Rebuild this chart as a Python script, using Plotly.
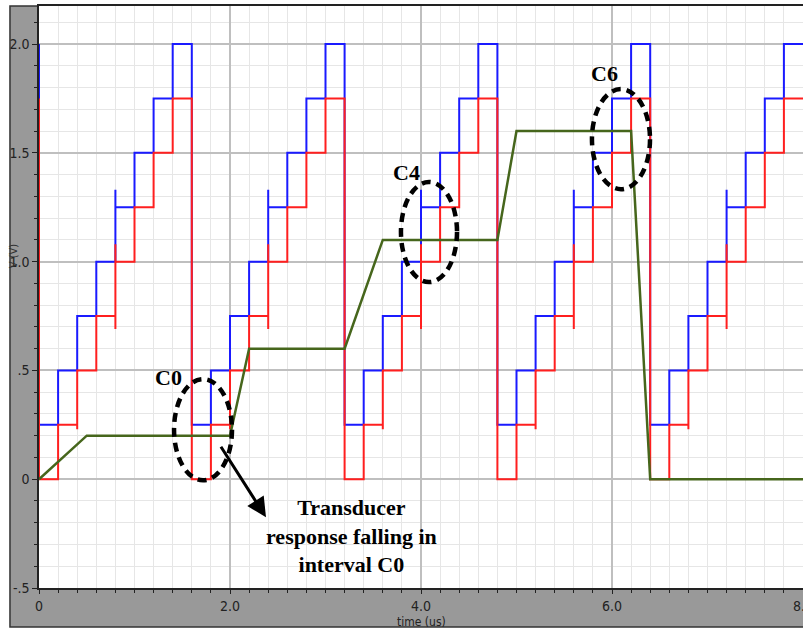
import plotly.graph_objects as go

# ---------------- data ----------------
blue_t = [0, 0, 0.2, 0.2, 0.4, 0.4, 0.6, 0.6, 0.8, 0.8, 0.8, 1.0, 1.0, 1.2, 1.2, 1.4, 1.4,
          1.6, 1.6, 1.8, 1.8, 2.0, 2.0, 2.2, 2.2, 2.4, 2.4, 2.4, 2.6, 2.6, 2.8, 2.8, 3.0, 3.0,
          3.2, 3.2, 3.4, 3.4, 3.6, 3.6, 3.8, 3.8, 4.0, 4.0, 4.0, 4.2, 4.2, 4.4, 4.4, 4.6, 4.6,
          4.8, 4.8, 5.0, 5.0, 5.2, 5.2, 5.4, 5.4, 5.6, 5.6, 5.6, 5.8, 5.8, 6.0, 6.0, 6.2, 6.2,
          6.4, 6.4, 6.6, 6.6, 6.8, 6.8, 7.0, 7.0, 7.2, 7.2, 7.2, 7.4, 7.4, 7.6, 7.6, 7.8, 7.8,
          8.0]
blue_v = [2.0, 0.25, 0.25, 0.5, 0.5, 0.75, 0.75, 1.0, 1.0, 1.33, 1.25, 1.25, 1.5, 1.5, 1.75, 1.75, 2.0,
          2.0, 0.25, 0.25, 0.5, 0.5, 0.75, 0.75, 1.0, 1.0, 1.33, 1.25, 1.25, 1.5, 1.5, 1.75, 1.75, 2.0,
          2.0, 0.25, 0.25, 0.5, 0.5, 0.75, 0.75, 1.0, 1.0, 1.33, 1.25, 1.25, 1.5, 1.5, 1.75, 1.75, 2.0,
          2.0, 0.25, 0.25, 0.5, 0.5, 0.75, 0.75, 1.0, 1.0, 1.33, 1.25, 1.25, 1.5, 1.5, 1.75, 1.75, 2.0,
          2.0, 0.25, 0.25, 0.5, 0.5, 0.75, 0.75, 1.0, 1.0, 1.33, 1.25, 1.25, 1.5, 1.5, 1.75, 1.75, 2.0,
          2.0]

red_t = [0, 0, 0.2, 0.2, 0.4, 0.4, 0.4, 0.6, 0.6, 0.8, 0.8, 0.8, 0.8, 1.0, 1.0, 1.2, 1.2, 1.4, 1.4,
         1.6, 1.6, 1.8, 1.8, 2.0, 2.0, 2.0, 2.2, 2.2, 2.4, 2.4, 2.4, 2.4, 2.6, 2.6, 2.8, 2.8, 3.0, 3.0,
         3.2, 3.2, 3.4, 3.4, 3.6, 3.6, 3.6, 3.8, 3.8, 4.0, 4.0, 4.0, 4.0, 4.2, 4.2, 4.4, 4.4, 4.6, 4.6,
         4.8, 4.8, 5.0, 5.0, 5.2, 5.2, 5.2, 5.4, 5.4, 5.6, 5.6, 5.6, 5.6, 5.8, 5.8, 6.0, 6.0, 6.2, 6.2,
         6.4, 6.4, 6.6, 6.6, 6.8, 6.8, 6.8, 7.0, 7.0, 7.2, 7.2, 7.2, 7.2, 7.4, 7.4, 7.6, 7.6, 7.8, 7.8,
         8.0]
red_v = [1.75, 0, 0, 0.25, 0.25, 0.23, 0.5, 0.5, 0.75, 0.75, 0.69, 1.08, 1.0, 1.0, 1.25, 1.25, 1.5, 1.5, 1.75,
         1.75, 0, 0, 0.25, 0.25, 0.23, 0.5, 0.5, 0.75, 0.75, 0.69, 1.08, 1.0, 1.0, 1.25, 1.25, 1.5, 1.5, 1.75,
         1.75, 0, 0, 0.25, 0.25, 0.23, 0.5, 0.5, 0.75, 0.75, 0.69, 1.08, 1.0, 1.0, 1.25, 1.25, 1.5, 1.5, 1.75,
         1.75, 0, 0, 0.25, 0.25, 0.23, 0.5, 0.5, 0.75, 0.75, 0.69, 1.08, 1.0, 1.0, 1.25, 1.25, 1.5, 1.5, 1.75,
         1.75, 0, 0, 0.25, 0.25, 0.23, 0.5, 0.5, 0.75, 0.75, 0.69, 1.08, 1.0, 1.0, 1.25, 1.25, 1.5, 1.5, 1.75,
         1.75]

green_t = [0, 0.5, 2.0, 2.2, 3.2, 3.6, 4.8, 5.0, 6.2, 6.4, 8.0]
green_v = [0, 0.2, 0.2, 0.6, 0.6, 1.1, 1.1, 1.6, 1.6, 0, 0]

x_tick_vals = [0, 2, 4, 6, 8]
x_tick_text = ["0", "2.0", "4.0", "6.0", "8.0"]
y_tick_vals = [-0.5, 0, 0.5, 1.0, 1.5, 2.0]
y_tick_text = ["-.5", "0", ".5", "1.0", "1.5", "2.0"]

# ellipses: (label, x0, x1, y0, y1)
ellipse_names = ["C0", "C4", "C6"]
ellipse_x0 = [1.414, 3.79, 5.79]
ellipse_x1 = [2.021, 4.377, 6.398]
ellipse_y0 = [-0.005, 0.906, 1.333]
ellipse_y1 = [0.46, 1.366, 1.793]
label_x = [1.351, 3.848, 5.921]
label_y = [0.469, 1.409, 1.864]

note_text = "Transducer<br>response falling in<br>interval C0"

# ---------------- figure ----------------
tick_font = dict(family="Liberation Sans Narrow, DejaVu Sans Condensed, Arial Narrow, sans-serif",
                 size=14, color="#222222")
serif_bold = dict(family="Liberation Serif, Times New Roman, serif", size=22, color="black", weight="bold")

fig = go.Figure()
fig.add_trace(go.Scatter(x=blue_t, y=blue_v, mode="lines",
                         line=dict(color="#1a1aff", width=2), hoverinfo="skip"))
fig.add_trace(go.Scatter(x=red_t, y=red_v, mode="lines",
                         line=dict(color="#ff1f1f", width=2), hoverinfo="skip"))
fig.add_trace(go.Scatter(x=green_t, y=green_v, mode="lines",
                         line=dict(color="#46661c", width=2.5), hoverinfo="skip"))

shapes = [
    # grey frame around the plot
    dict(type="rect", xref="paper", yref="paper", x0=-0.038, x1=1.05, y0=-0.067, y1=1.0,
         fillcolor="#999999", line=dict(color="#333333", width=1.5), layer="below"),
    # white plotting area
    dict(type="rect", xref="paper", yref="paper", x0=0, x1=1, y0=0, y1=1,
         fillcolor="white", line=dict(width=0), layer="below"),
]
for i in range(len(ellipse_names)):
    shapes.append(dict(type="circle", xref="x", yref="y",
                       x0=ellipse_x0[i], x1=ellipse_x1[i], y0=ellipse_y0[i], y1=ellipse_y1[i],
                       line=dict(color="black", width=4.5, dash="9px,6px"), layer="above"))

annotations = []
for i in range(len(ellipse_names)):
    annotations.append(dict(x=label_x[i], y=label_y[i], xref="x", yref="y", text=ellipse_names[i],
                            showarrow=False, font=serif_bold, xanchor="center", yanchor="middle"))

annotations.append(dict(x=2.377, y=-0.175, ax=1.895, ay=0.156, xref="x", yref="y",
                        axref="x", ayref="y", text="", showarrow=True, arrowhead=2,
                        arrowsize=1.3, arrowwidth=3, arrowcolor="black", standoff=0, startstandoff=0))
annotations.append(dict(x=3.267, y=-0.262, xref="x", yref="y", text=note_text, showarrow=False,
                        font=serif_bold, align="center", xanchor="center", yanchor="middle"))
annotations.append(dict(x=4.0, y=-0.058, xref="x", yref="paper", text="time (us)", showarrow=False,
                        font=dict(family=tick_font["family"], size=12, color="#222222"),
                        xanchor="center", yanchor="middle"))
annotations.append(dict(x=-0.034, y=0.57, xref="paper", yref="paper", text="V (V)", showarrow=False,
                        textangle=-90, font=dict(family=tick_font["family"], size=11, color="#333333"),
                        xanchor="center", yanchor="middle"))

fig.update_layout(
    template="none",
    width=803, height=628,
    margin=dict(l=39, r=0, t=6, b=40, pad=0),
    paper_bgcolor="white", plot_bgcolor="white",
    showlegend=False,
    shapes=shapes,
    annotations=annotations,
)

fig.update_xaxes(
    range=[0, 8], tickmode="array", tickvals=x_tick_vals, ticktext=x_tick_text,
    ticks="outside", ticklen=4, tickwidth=1, tickcolor="#222222",
    showline=True, linecolor="#222222", linewidth=1.5, mirror=True,
    showgrid=True, gridcolor="#bfbfbf", gridwidth=1.5, zeroline=False,
    minor=dict(tickmode="linear", tick0=0, dtick=0.2, ticks="outside", ticklen=3,
               tickcolor="#222222", showgrid=True, gridcolor="#e6e6e6", gridwidth=1),
    tickfont=tick_font, ticklabeloverflow="allow", automargin=False,
)
fig.update_yaxes(
    range=[-0.5, 2.175], tickmode="array", tickvals=y_tick_vals, ticktext=y_tick_text,
    ticks="outside", ticklen=5, tickwidth=1, tickcolor="#222222",
    showline=True, linecolor="#222222", linewidth=1.5,
    showgrid=True, gridcolor="#bfbfbf", gridwidth=1.5, zeroline=False,
    minor=dict(tickmode="linear", tick0=0, dtick=0.1, ticks="outside", ticklen=3,
               tickcolor="#222222", showgrid=True, gridcolor="#e6e6e6", gridwidth=1),
    tickfont=tick_font, ticklabeloverflow="allow", automargin=False,
)

fig.write_html("out.html", config={"displayModeBar": False},
               post_script="document.body.style.margin='0px';")
